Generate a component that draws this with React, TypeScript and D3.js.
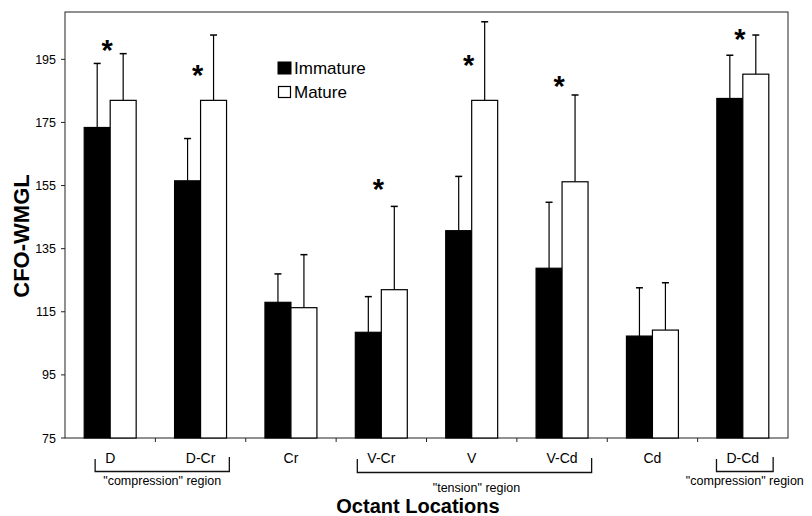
import React from "react";
import * as d3 from "d3";

const categories = ["D", "D-Cr", "Cr", "V-Cr", "V", "V-Cd", "Cd", "D-Cd"];
const immature = [173.4, 156.5, 118, 108.5, 140.7, 128.8, 107.3, 182.6];
const immatureErr = [20.3, 13.4, 9, 11.3, 17.2, 20.9, 15.3, 13.7];
const mature = [182, 182, 116.3, 122, 182, 156.2, 109.2, 190.3];
const matureErr = [14.8, 20.7, 16.8, 26.4, 24.9, 27.5, 15, 12.4];
// asterisk level (in y units) per category, null = none
const asteriskAt: (number | null)[] = [200, 192, null, 155.7, 195, 188.4, null, 203.4];
const yTicks = [75, 95, 115, 135, 155, 175, 195];
const series = ["Immature", "Mature"];
const brackets = [
  { from: "D", to: "D-Cr", label: "\"compression\" region", row: 0 },
  { from: "V-Cr", to: "V-Cd", label: "\"tension\" region", row: 1 },
  { from: "D-Cd", to: "D-Cd", label: "\"compression\" region", row: 0 },
];

const W = 812, H = 516;
const L = 65, R = 788, T = 12, B = 438;
const FONT = "Liberation Sans, Arial, Helvetica, sans-serif";

function textWidth(s: string, size: number) {
  const c = document.createElement("canvas").getContext("2d");
  if (!c) return s.length * size * 0.55;
  c.font = `${size}px ${FONT}`;
  return c.measureText(s).width;
}

export default function App() {
  const x = d3.scaleBand<string>().domain(categories).range([L, R]).padding(0);
  const bw = x.bandwidth();
  const xs = d3.scaleBand<string>().domain(series).range([bw * 0.2125, bw * 0.7875]).padding(0);
  const y = d3.scaleLinear().domain([75, 210]).range([B, T]);
  const sw = xs.bandwidth();
  const cap = 3.5;

  const catFont = 14;
  return (
    <svg width={W} height={H} style={{ display: "block", position: "absolute", left: 0, top: 0, background: "#fff" }} fontFamily={FONT}>
      <rect x={0} y={0} width={W} height={H} fill="#fff" />
      {/* frame */}
      <rect x={L} y={T} width={R - L} height={B - T} fill="none" stroke="#222" strokeWidth={1} />
      {/* bars */}
      {categories.map((c, i) => {
        const x0 = x(c)!;
        const vals = [immature[i], mature[i]];
        const errs = [immatureErr[i], matureErr[i]];
        return (
          <g key={c}>
            {series.map((s, j) => {
              const bx = x0 + xs(s)!;
              const cx = bx + sw / 2;
              const top = vals[j] + errs[j];
              return (
                <g key={s}>
                  <line x1={cx} x2={cx} y1={y(vals[j])} y2={y(top)} stroke="#000" strokeWidth={1.2} />
                  <line x1={cx - cap} x2={cx + cap} y1={y(top)} y2={y(top)} stroke="#000" strokeWidth={1.5} />
                  <rect x={bx} y={y(vals[j])} width={sw} height={B - y(vals[j])}
                    fill={j === 0 ? "#000" : "#fff"} stroke="#000" strokeWidth={1.2} />
                </g>
              );
            })}
            {asteriskAt[i] !== null && (
              <text x={x0 + bw / 2 - 3} y={y(asteriskAt[i] as number) + 16} textAnchor="middle"
                fontSize={29} fontWeight="bold">*</text>
            )}
          </g>
        );
      })}
      {/* y axis */}
      {yTicks.map((t) => (
        <g key={t}>
          <line x1={L - 4} x2={L} y1={y(t)} y2={y(t)} stroke="#222" />
          <text x={L - 9} y={y(t) + 4.5} textAnchor="end" fontSize={12.5}>{t}</text>
        </g>
      ))}
      {/* x axis ticks */}
      {categories.slice(1).map((c) => (
        <line key={c} x1={x(c)!} x2={x(c)!} y1={B} y2={B + 4} stroke="#222" />
      ))}
      {categories.map((c) => (
        <text key={c} x={x(c)! + bw / 2} y={463} textAnchor="middle" fontSize={catFont}>{c}</text>
      ))}
      {/* brackets */}
      {brackets.map((b, k) => {
        const c1 = x(b.from)! + bw / 2, c2 = x(b.to)! + bw / 2;
        const x1 = c1 - textWidth(b.from, catFont) / 2 - 10;
        const x2 = c2 + textWidth(b.to, catFont) / 2 + 14;
        const by = b.row === 0 ? 471.5 : 472.5;
        return (
          <g key={k}>
            <path d={`M${x1},459V${by}H${x2}V${b.row === 0 ? 457 : 458}`} fill="none" stroke="#111" strokeWidth={1.3} />
            <text x={(x1 + x2) / 2 + (b.row === 1 ? 2 : 0)} y={b.row === 0 ? 485 : 492} textAnchor="middle" fontSize={12.5}>{b.label}</text>
          </g>
        );
      })}
      {/* legend */}
      <rect x={278} y={62} width={13} height={12} fill="#000" stroke="#000" />
      <text x={294} y={74} fontSize={17}>Immature</text>
      <rect x={278.5} y={86.5} width={12} height={11} fill="#fff" stroke="#000" strokeWidth={1.2} />
      <text x={294} y={98} fontSize={17}>Mature</text>
      {/* axis titles */}
      <text transform={`translate(29,${(T + B) / 2 + 11}) rotate(-90)`} textAnchor="middle" fontSize={22} fontWeight="bold">CFO-WMGL</text>
      <text x={418} y={513} textAnchor="middle" fontSize={20} fontWeight="bold">Octant Locations</text>
    </svg>
  );
}
